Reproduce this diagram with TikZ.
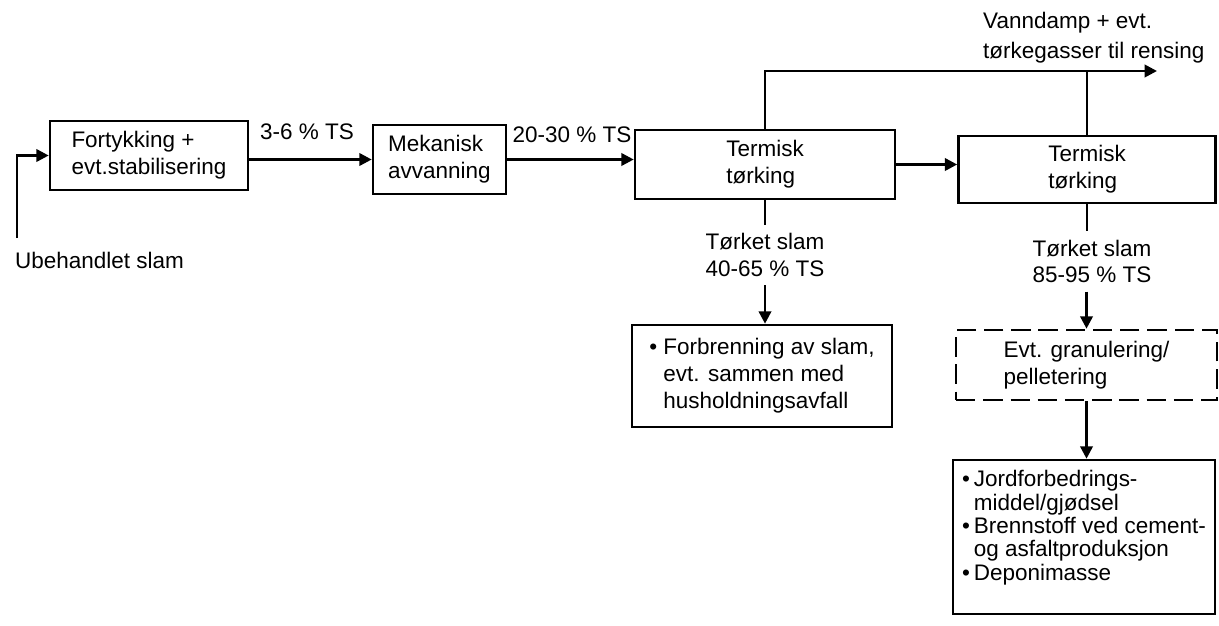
\documentclass[tikz,border=0pt]{standalone}
\usepackage{fontspec}
\setmainfont{Liberation Sans}
\usepackage{tikz}
\usetikzlibrary{arrows.meta}

\begin{document}
\begin{tikzpicture}[x=0.02cm,y=-0.02cm,line width=1.5pt,
 font=\fontsize{12.8}{15.3}\selectfont,
 >={Triangle[length=7pt,width=7pt]},
 box/.style={draw,align=left,inner sep=2pt,minimum height=1.38cm}]
 \useasboundingbox (0,0) rectangle (1219,625);
 \node[box,minimum width=3.96cm] (fort) at (149,155.5) {Fortykking +\\evt.stabilisering};
 \node[box,minimum width=2.66cm] (mek) at (439.5,159.5) {Mekanisk\\avvanning};
 \node[box,minimum width=5.2cm] (term1) at (765,164.5) {Termisk\\tørking};
 \node[box,minimum width=5.14cm,minimum height=1.34cm] (term2) at (1087,169.5) {Termisk\\tørking};
 \node[box,minimum width=5.2cm,minimum height=2.04cm] (forbr) at (762,376)
  {\textbullet\ Forbrenning av slam,\\\phantom{\textbullet\ }evt. sammen med\\\phantom{\textbullet\ }husholdningsavfall};
 \node[box,dash pattern=on 11pt off 4.5pt,minimum width=5.22cm,minimum height=1.4cm] (gran) at (1086.5,365)
  {Evt. granulering/\\pelletering};
 \node[box,minimum width=5.24cm,minimum height=3.08cm,font=\fontsize{12.8}{13.3}\selectfont] (bruk) at (1084,537)
  {\textbullet\,Jordforbedrings-\\\phantom{\textbullet\,}middel/gjødsel\\\textbullet\,Brennstoff ved cement-\\\phantom{\textbullet\,}og asfaltproduksjon\\\textbullet\,Deponimasse\\\mbox{}};
 \node (ts1) at (307,132) {3-6 \% TS};
 \node (ts2) at (572,135) {20-30 \% TS};
 \node[anchor=west] (raw) at (8,260) {Ubehandlet slam};
 \node[align=left,anchor=west,font=\fontsize{12.8}{17}\selectfont] (vap) at (976,38) {Vanndamp + evt.\\tørkegasser til rensing};
 \node[align=left,inner sep=4pt] (dry1) at (765,255) {Tørket slam\\40-65 \% TS};
 \node[align=left,inner sep=4pt] (dry2) at (1092,261.5) {Tørket slam\\85-95 \% TS};
 \coordinate (inlet) at (17,238);
 \coordinate (vapout) at (1157,71);
 \draw[->] (inlet) |- (fort.west);
 \draw[->] (mek.west -| fort.east) -- (mek.west);
 \draw[->] (mek.east) -- (mek.east -| term1.west);
 \draw[->] (term1.east) -- (term1.east -| term2.west);
 \draw[->] (term1.north) |- (vapout);
 \draw (term2.north) -- (term2.north |- vapout);
 \draw (term1.south) -- (dry1.north);
 \draw[->] (dry1.south) -- (dry1.south |- forbr.north);
 \draw (term2.south) -- (term2.south |- dry2.north);
 \draw[->] (gran.north |- dry2.south) -- (gran.north);
 \draw[->] (gran.south) -- (gran.south |- bruk.north);
\end{tikzpicture}
\end{document}
